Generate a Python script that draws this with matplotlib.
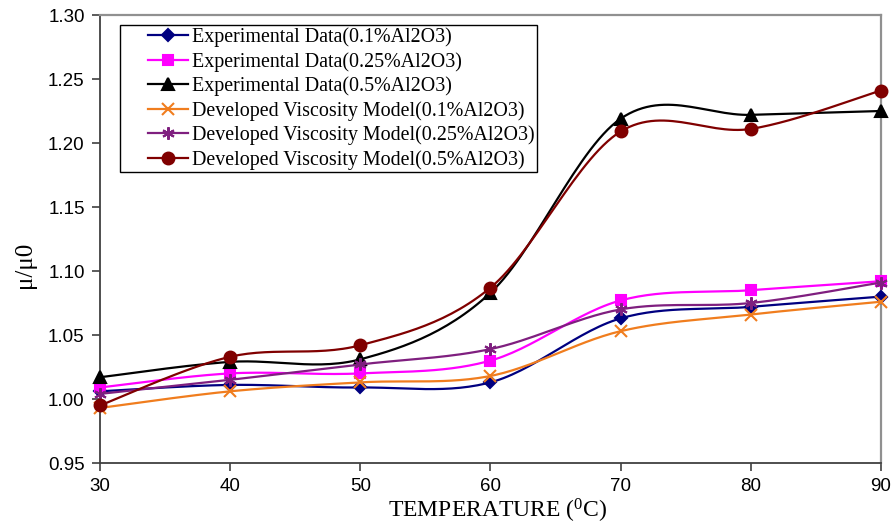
import numpy as np
import matplotlib
matplotlib.use("Agg")
import matplotlib.pyplot as plt
from matplotlib.legend_handler import HandlerLine2D

temps = [30, 40, 50, 60, 70, 80, 90]
exp_01 = [1.006, 1.011, 1.009, 1.013, 1.063, 1.072, 1.080]
exp_025 = [1.009, 1.020, 1.020, 1.030, 1.077, 1.085, 1.092]
exp_05 = [1.017, 1.029, 1.031, 1.083, 1.219, 1.222, 1.225]
mod_01 = [0.993, 1.006, 1.013, 1.018, 1.053, 1.066, 1.076]
mod_025 = [1.004, 1.015, 1.027, 1.039, 1.070, 1.075, 1.091]
mod_05 = [0.995, 1.033, 1.042, 1.087, 1.209, 1.211, 1.241]

labels = ["Experimental Data(0.1%Al2O3)", "Experimental Data(0.25%Al2O3)",
          "Experimental Data(0.5%Al2O3)", "Developed Viscosity Model(0.1%Al2O3)",
          "Developed Viscosity Model(0.25%Al2O3)", "Developed Viscosity Model(0.5%Al2O3)"]
yticks = [0.95, 1.00, 1.05, 1.10, 1.15, 1.20, 1.25, 1.30]
xticks = [30, 40, 50, 60, 70, 80, 90]


def smooth(xs, ys, n=30):
    P = np.column_stack([xs, ys]).astype(float)
    m = len(P)
    out = []
    for i in range(m - 1):
        p0 = P[max(i - 1, 0)]
        p1 = P[i]
        p2 = P[i + 1]
        p3 = P[min(i + 2, m - 1)]
        b1 = p1 + (p2 - p0) / 6.0
        b2 = p2 - (p3 - p1) / 6.0
        t = np.linspace(0, 1, n, endpoint=False)[:, None]
        seg = ((1 - t) ** 3) * p1 + 3 * ((1 - t) ** 2) * t * b1 + 3 * (1 - t) * t ** 2 * b2 + t ** 3 * p2
        out.append(seg)
    out.append(P[-1][None, :])
    arr = np.vstack(out)
    idx = [i * n for i in range(m)]
    return arr[:, 0], arr[:, 1], idx


plt.rcParams["mathtext.fontset"] = "custom"
plt.rcParams["mathtext.rm"] = "Liberation Serif"

fig = plt.figure(figsize=(8.96, 5.31), dpi=100)
ax = fig.add_axes([100 / 896, 1 - 463 / 531, 781 / 896, 448 / 531])

series = [
    (exp_01, "#000080", "D", 6, None),
    (exp_025, "#FF00FF", "s", 7.5, None),
    (exp_05, "#000000", "^", 8, None),
    (mod_01, "#F07D1E", "x", 8, None),
    (mod_025, "#7F1F7F", (6, 2, 0), 9, None),
    (mod_05, "#800000", "o", 8.5, None),
]

handles = []
for (vals, col, mk, ms, _), lab in zip(series, labels):
    sx, sy, idx = smooth(temps, vals)
    ln, = ax.plot(sx, sy, color=col, lw=1.6, marker=mk, markersize=ms, markevery=idx,
                  markerfacecolor=col, markeredgecolor=col, markeredgewidth=1.5,
                  label=lab, clip_on=False, zorder=3)
    handles.append(ln)

ax.set_xlim(30, 90)
ax.set_ylim(0.95, 1.30)
ax.set_xticks(xticks)
ax.set_yticks(yticks)
ax.set_xticklabels([str(t) for t in xticks], fontfamily="Liberation Sans", fontsize=13.5)
ax.set_yticklabels([f"{t:.2f}" for t in yticks], fontfamily="Liberation Sans", fontsize=13.5)
ax.tick_params(axis="both", direction="out", length=6, width=1.2, color="#404040", pad=5)
for s in ["left", "bottom"]:
    ax.spines[s].set_color("#404040")
    ax.spines[s].set_linewidth(1.3)
for s in ["top", "right"]:
    ax.spines[s].set_color("#909090")
    ax.spines[s].set_linewidth(1.6)

ax.set_xlabel(r"TEMPERATURE ($\mathregular{^0}$C)", fontfamily="Liberation Serif", fontsize=17)
ax.xaxis.set_label_coords((498 - 100) / 781, (463 - 497) / 448)
ax.set_ylabel("μ/μ0", fontfamily="Liberation Serif", fontsize=18)
ax.yaxis.set_label_coords((36 - 100) / 781, (463 - 265) / 448)

fs = 14.4
fpx = fs * 100 / 72
hmap = {h: HandlerLine2D(xpad=26 / fpx) for h in handles}
leg = ax.legend(handles=handles, loc="upper left", bbox_to_anchor=(20 / 781, 1 - 10 / 448),
                prop={"family": "Liberation Serif", "size": fs}, frameon=True, fancybox=False,
                edgecolor="black", framealpha=1, handlelength=66 / fpx, handletextpad=4 / fpx,
                labelspacing=0.24, borderpad=0.12, borderaxespad=0, numpoints=1,
                handler_map=hmap)
leg.get_frame().set_linewidth(1.0)

fig.savefig("out.png", dpi=100)
